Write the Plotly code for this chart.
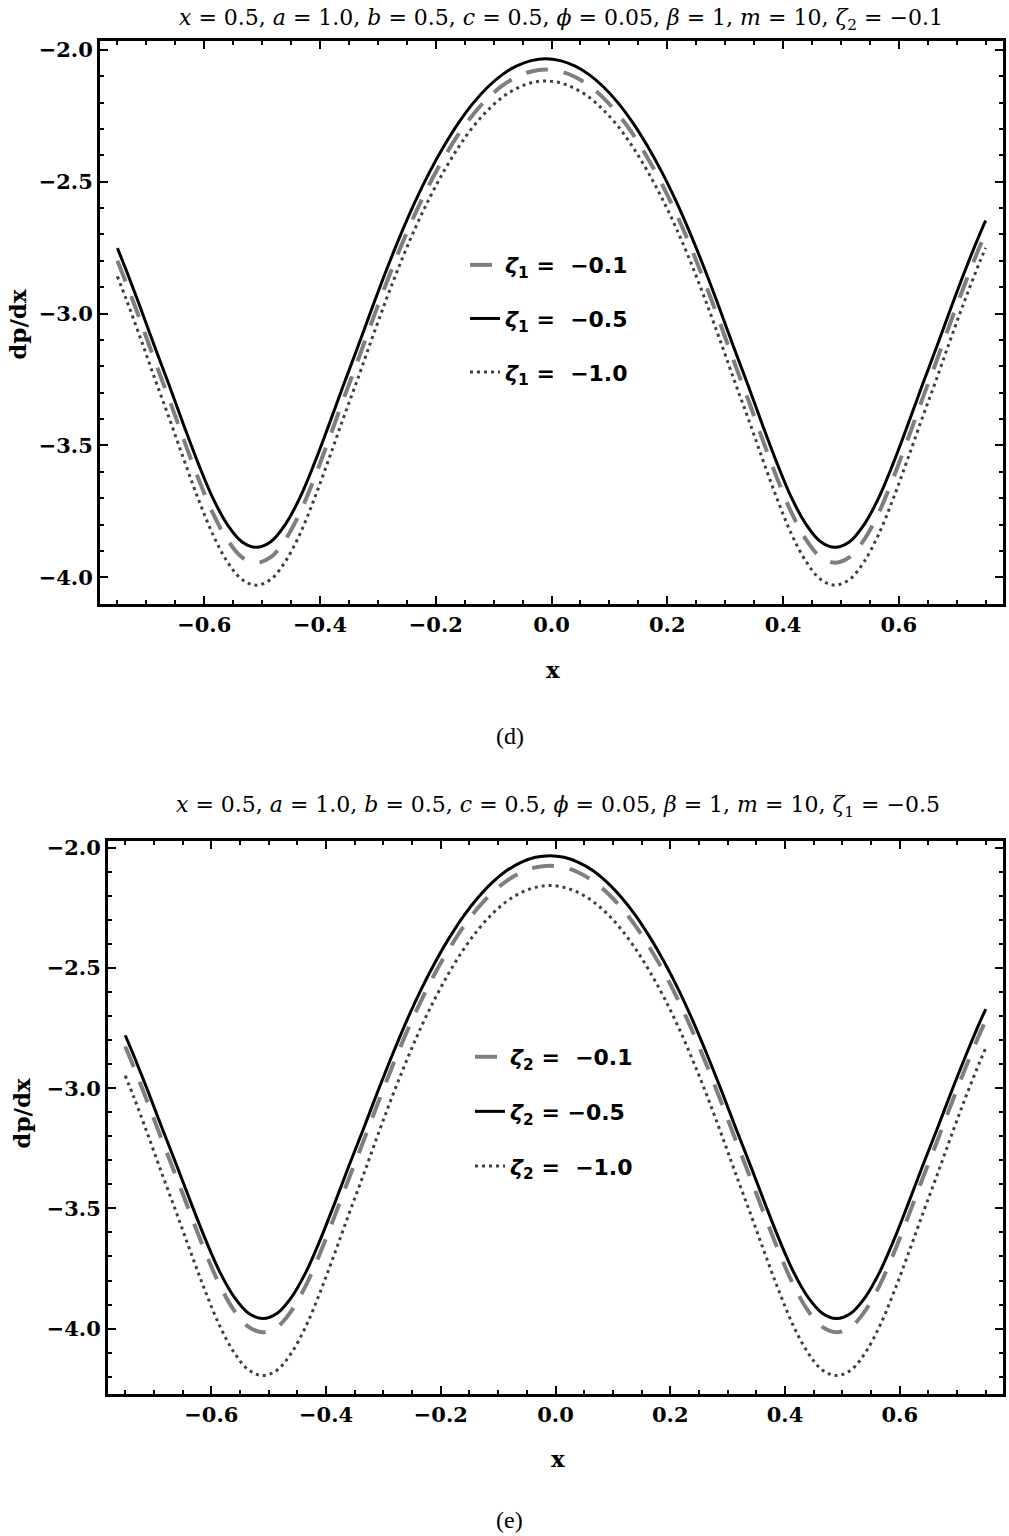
import plotly.graph_objects as go

# ---------------- data ----------------
x_vals = [-0.75, -0.735, -0.71, -0.685, -0.66, -0.635, -0.61, -0.585, -0.56, -0.535, -0.51,
          -0.485, -0.46, -0.435, -0.41, -0.385, -0.36, -0.335, -0.31, -0.285, -0.26,
          -0.235, -0.21, -0.185, -0.16, -0.135, -0.11, -0.085, -0.06, -0.035, -0.01,
          0.015, 0.04, 0.065, 0.09, 0.115, 0.14, 0.165, 0.19, 0.215, 0.24,
          0.265, 0.29, 0.315, 0.34, 0.365, 0.39, 0.415, 0.44, 0.465, 0.49,
          0.515, 0.54, 0.565, 0.59, 0.615, 0.64, 0.665, 0.69, 0.715, 0.74, 0.75]

# panel (d): zeta2 = -0.1, varying zeta1
d_z1_m01 = [-2.800, -2.883, -3.029, -3.181, -3.328, -3.480, -3.626, -3.757, -3.858, -3.924, -3.945,
            -3.924, -3.858, -3.757, -3.626, -3.480, -3.328, -3.181, -3.029, -2.883, -2.745,
            -2.619, -2.506, -2.406, -2.318, -2.244, -2.183, -2.136, -2.102, -2.082, -2.075,
            -2.082, -2.102, -2.136, -2.183, -2.244, -2.318, -2.406, -2.506, -2.619, -2.745,
            -2.883, -3.029, -3.181, -3.328, -3.480, -3.626, -3.757, -3.858, -3.924, -3.945,
            -3.924, -3.858, -3.757, -3.626, -3.480, -3.328, -3.181, -3.029, -2.883, -2.745, -2.695]
d_z1_m05 = [-2.752, -2.834, -2.979, -3.129, -3.275, -3.425, -3.570, -3.700, -3.800, -3.865, -3.886,
            -3.865, -3.800, -3.700, -3.570, -3.425, -3.275, -3.129, -2.979, -2.834, -2.698,
            -2.573, -2.461, -2.362, -2.275, -2.201, -2.141, -2.094, -2.061, -2.041, -2.034,
            -2.041, -2.061, -2.094, -2.141, -2.201, -2.275, -2.362, -2.461, -2.573, -2.698,
            -2.834, -2.979, -3.129, -3.275, -3.425, -3.570, -3.700, -3.800, -3.865, -3.886,
            -3.865, -3.800, -3.700, -3.570, -3.425, -3.275, -3.129, -2.979, -2.834, -2.698, -2.648]
d_z1_m10 = [-2.859, -2.944, -3.094, -3.249, -3.399, -3.554, -3.704, -3.838, -3.941, -4.008, -4.030,
            -4.008, -3.941, -3.838, -3.704, -3.554, -3.399, -3.249, -3.094, -2.944, -2.803,
            -2.674, -2.559, -2.457, -2.367, -2.290, -2.229, -2.180, -2.146, -2.125, -2.118,
            -2.125, -2.146, -2.180, -2.229, -2.290, -2.367, -2.457, -2.559, -2.674, -2.803,
            -2.944, -3.094, -3.249, -3.399, -3.554, -3.704, -3.838, -3.941, -4.008, -4.030,
            -4.008, -3.941, -3.838, -3.704, -3.554, -3.399, -3.249, -3.094, -2.944, -2.803, -2.751]

# panel (e): zeta1 = -0.5, varying zeta2
e_z2_m01 = [-2.827, -2.913, -3.065, -3.222, -3.375, -3.532, -3.684, -3.820, -3.925, -3.993, -4.015,
            -3.993, -3.925, -3.820, -3.684, -3.532, -3.375, -3.222, -3.065, -2.913, -2.770,
            -2.640, -2.522, -2.419, -2.327, -2.250, -2.187, -2.138, -2.103, -2.082, -2.075,
            -2.082, -2.103, -2.138, -2.187, -2.250, -2.327, -2.419, -2.522, -2.640, -2.770,
            -2.913, -3.065, -3.222, -3.375, -3.532, -3.684, -3.820, -3.925, -3.993, -4.015,
            -3.993, -3.925, -3.820, -3.684, -3.532, -3.375, -3.222, -3.065, -2.913, -2.770, -2.718]
e_z2_m05 = [-2.780, -2.865, -3.015, -3.171, -3.323, -3.479, -3.630, -3.765, -3.869, -3.936, -3.958,
            -3.936, -3.869, -3.765, -3.630, -3.479, -3.323, -3.171, -3.015, -2.865, -2.723,
            -2.593, -2.477, -2.374, -2.283, -2.207, -2.144, -2.095, -2.061, -2.040, -2.033,
            -2.040, -2.061, -2.095, -2.144, -2.207, -2.283, -2.374, -2.477, -2.593, -2.723,
            -2.865, -3.015, -3.171, -3.323, -3.479, -3.630, -3.765, -3.869, -3.936, -3.958,
            -3.936, -3.869, -3.765, -3.630, -3.479, -3.323, -3.171, -3.015, -2.865, -2.723, -2.671]
e_z2_m10 = [-2.948, -3.037, -3.197, -3.362, -3.523, -3.688, -3.847, -3.990, -4.100, -4.172, -4.195,
            -4.172, -4.100, -3.990, -3.847, -3.688, -3.523, -3.362, -3.197, -3.037, -2.888,
            -2.750, -2.627, -2.518, -2.422, -2.341, -2.275, -2.223, -2.187, -2.165, -2.157,
            -2.165, -2.187, -2.223, -2.275, -2.341, -2.422, -2.518, -2.627, -2.750, -2.888,
            -3.037, -3.197, -3.362, -3.523, -3.688, -3.847, -3.990, -4.100, -4.172, -4.195,
            -4.172, -4.100, -3.990, -3.847, -3.688, -3.523, -3.362, -3.197, -3.037, -2.888, -2.833]

x_ticks = [-0.6, -0.4, -0.2, 0.0, 0.2, 0.4, 0.6]
y_ticks = [-2.0, -2.5, -3.0, -3.5, -4.0]

NB = "\u00a0"
d_names = [f"<i>ζ</i><sub>1</sub> ={NB} \u22120.1", f"<i>ζ</i><sub>1</sub> ={NB} \u22120.5",
           f"<i>ζ</i><sub>1</sub> ={NB} \u22121.0"]
e_names = [f"<i>ζ</i><sub>2</sub> ={NB} \u22120.1", f"<i>ζ</i><sub>2</sub> = \u22120.5",
           f"<i>ζ</i><sub>2</sub> ={NB} \u22121.0"]

title_d = ("<i>x</i> = 0.5, <i>a</i> = 1.0, <i>b</i> = 0.5, <i>c</i> = 0.5, <i>ϕ</i> = 0.05, "
           "<i>β</i> = 1, <i>m</i> = 10, <i>ζ</i><sub>2</sub> = \u22120.1")
title_e = ("<i>x</i> = 0.5, <i>a</i> = 1.0, <i>b</i> = 0.5, <i>c</i> = 0.5, <i>ϕ</i> = 0.05, "
           "<i>β</i> = 1, <i>m</i> = 10, <i>ζ</i><sub>1</sub> = \u22120.5")

# ---------------- styles ----------------
styles = [
    dict(color="#7f7f7f", width=4, dash="22px,16px"),
    dict(color="#000000", width=3, dash="solid"),
    dict(color="#404040", width=3, dash="3px,4px"),
]

W, H = 1009, 1536
fig = go.Figure()

for i, (ys, nm) in enumerate(zip([d_z1_m01, d_z1_m05, d_z1_m10], d_names)):
    fig.add_trace(go.Scatter(x=x_vals, y=ys, mode="lines", name=nm, line=styles[i],
                             line_shape="spline", xaxis="x", yaxis="y",
                             legend="legend", legendgroup=f"d{i}"))
for i, (ys, nm) in enumerate(zip([e_z2_m01, e_z2_m05, e_z2_m10], e_names)):
    fig.add_trace(go.Scatter(x=x_vals, y=ys, mode="lines", name=nm, line=styles[i],
                             line_shape="spline", xaxis="x2", yaxis="y2",
                             legend="legend2", legendgroup=f"e{i}"))

tick_font = dict(family="DejaVu Serif", size=21, color="black", weight="bold")

def xa(domain, anchor):
    return dict(domain=domain, anchor=anchor, range=[-0.78, 0.78],
                tickvals=x_ticks, tickformat=".1f", ticks="inside", ticklen=8, tickwidth=2,
                tickcolor="black", showline=True, linewidth=3, linecolor="black",
                mirror="allticks", showgrid=False, zeroline=False, tickfont=tick_font,
                minor=dict(ticks="inside", ticklen=4, tickwidth=2, tickcolor="black", dtick=0.05,
                           tick0=0, showgrid=False))

def ya(domain, anchor, rng):
    return dict(domain=domain, anchor=anchor, range=rng,
                tickvals=y_ticks, tickformat=".1f", ticks="inside", ticklen=8, tickwidth=2,
                tickcolor="black", showline=True, linewidth=3, linecolor="black",
                mirror="allticks", showgrid=False, zeroline=False, tickfont=tick_font,
                minor=dict(ticks="inside", ticklen=4, tickwidth=2, tickcolor="black", dtick=0.1,
                           tick0=0, showgrid=False))

def px(v):
    return v / W

def py(v):
    return 1 - v / H

legend_font = dict(family="DejaVu Sans", size=22, color="black", weight="bold")

fig.update_layout(
    width=W, height=H,
    margin=dict(l=0, r=0, t=0, b=0),
    paper_bgcolor="white", plot_bgcolor="white",
    xaxis=xa([px(100), px(1003)], "y"),
    yaxis=ya([py(600), py(35)], "x", [-4.10, -1.966]),
    xaxis2=xa([px(108), px(1003)], "y2"),
    yaxis2=ya([py(1393), py(838)], "x2", [-4.27, -1.971]),
    legend=dict(x=px(465), y=py(239), xanchor="left", yanchor="top", font=legend_font,
                bgcolor="rgba(0,0,0,0)", tracegroupgap=22, itemwidth=30),
    legend2=dict(x=px(470), y=py(1034), xanchor="left", yanchor="top", font=legend_font,
                 bgcolor="rgba(0,0,0,0)", tracegroupgap=23, itemwidth=30),
    showlegend=True,
)

title_font = dict(family="DejaVu Serif", size=22, color="black")
label_font = dict(family="DejaVu Serif", size=23, color="black", weight="bold")
cap_font = dict(family="Liberation Serif", size=24, color="black")

annos = [
    dict(text=title_d, x=px(561), y=py(14), font=title_font),
    dict(text=title_e, x=px(558), y=py(804), font=title_font),
    dict(text="x", x=px(553), y=py(666), font=label_font),
    dict(text="x", x=px(558), y=py(1458), font=label_font),
    dict(text="dp/dx", x=px(18), y=py(320), font=label_font, textangle=-90),
    dict(text="dp/dx", x=px(22), y=py(1112), font=label_font, textangle=-90),
    dict(text="(d)", x=px(510), y=py(733), font=cap_font),
    dict(text="(e)", x=px(510), y=py(1520), font=cap_font),
]
for a in annos:
    fig.add_annotation(xref="paper", yref="paper", showarrow=False,
                       xanchor="center", yanchor="middle", **a)

fig.write_html("out.html", config={"displayModeBar": False},
               post_script="document.body.style.margin='0px';document.body.style.overflow='hidden';")
